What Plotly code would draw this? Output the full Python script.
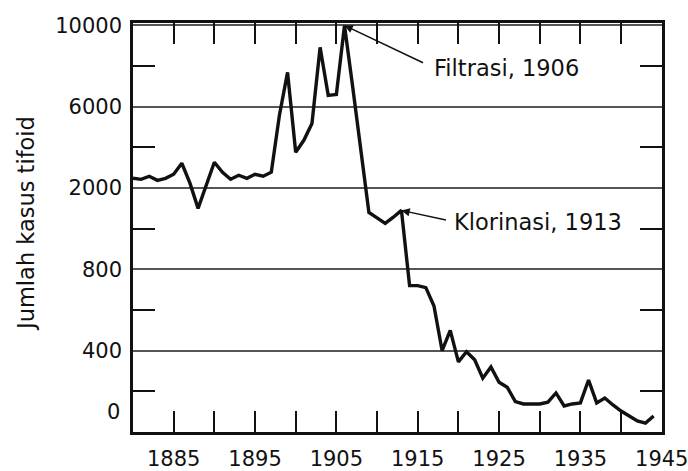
import numpy as np
import plotly.graph_objects as go

# ---- data ----
years = list(range(1880, 1945))
cases = [2480, 2430, 2580, 2380, 2480, 2680, 3220, 2240, 1700, 2140,
         3270, 2780, 2430, 2630, 2480, 2680, 2580, 2780, 5580, 7690,
         3760, 4350, 5180, 8920, 6560, 6600, 10000, 7000, 3910, 1640,
         1560, 1480, 1570, 1670, 720, 720, 710, 620, 400, 500,
         345, 395, 355, 265, 320, 245, 220, 150, 138, 138,
         138, 147, 192, 128, 138, 143, 256, 143, 167, 133,
         103, 79, 54, 44, 79]

y_tick_values = [0, 400, 800, 2000, 6000, 10000]
y_tick_labels = ["0", "400", "800", "2000", "6000", "10000"]
x_label_years = [1885, 1895, 1905, 1915, 1925, 1935, 1945]
x_minor_years = [1890, 1900, 1910, 1920, 1930, 1940]

y_title = "Jumlah kasus tifoid"
note_filter = ("Filtrasi, 1906", 1906)
note_chlor = ("Klorinasi, 1913", 1913)

# the printed axis spaces its labels evenly; map counts onto that scale
idx = list(range(len(y_tick_values)))
def to_pos(v):
    return np.interp(v, y_tick_values, idx)

ypos = to_pos(cases)

FONT = "DejaVu Sans"
TXT = "#111111"

fig = go.Figure()
fig.add_trace(go.Scatter(x=years, y=ypos, mode="lines",
                         line=dict(color="#111111", width=3.4),
                         hoverinfo="skip", showlegend=False))

fig.update_layout(
    template="none",
    width=688, height=471,
    margin=dict(l=133, r=26, t=23, b=39),
    paper_bgcolor="white", plot_bgcolor="white",
    font=dict(family=FONT, size=21, color=TXT),
    showlegend=False,
)

fig.update_xaxes(
    automargin=False,
    range=[1880, 1945.03],
    tickmode="array", tickvals=x_label_years,
    ticktext=[str(y) for y in x_label_years],
    ticks="inside", ticklen=21, tickwidth=1.6, tickcolor="#111",
    minor=dict(tickmode="array", tickvals=x_minor_years, ticks="inside",
               ticklen=21, tickwidth=1.6, tickcolor="#111", showgrid=False),
    showgrid=False, zeroline=False,
    showline=True, linecolor="#111", linewidth=2.6, mirror="ticks",
    tickfont=dict(family=FONT, size=21, color=TXT),
    ticklabeloverflow="allow",
    ticklabelstandoff=6,
)

fig.update_yaxes(
    automargin=False,
    range=[0, 5.03],
    tickmode="array", tickvals=idx[1:], ticktext=y_tick_labels[1:],
    ticks="", showgrid=True, gridcolor="#555555", gridwidth=1.5,
    minor=dict(tickmode="array", tickvals=[i + 0.5 for i in idx[:-1]],
               ticks="inside", ticklen=22, tickwidth=1.6, tickcolor="#111",
               showgrid=False),
    zeroline=False,
    showline=True, linecolor="#111", linewidth=2.6, mirror="ticks",
    tickfont=dict(family=FONT, size=21, color=TXT),
    ticklabeloverflow="allow",
    ticklabelstandoff=4,
)

# "0" label sits a little above the bottom edge in the original
fig.add_annotation(xref="paper", yref="y", x=0, y=0.25, xshift=-11,
                   xanchor="right", yanchor="middle", text=y_tick_labels[0],
                   showarrow=False, font=dict(family=FONT, size=21, color=TXT))

# y title
fig.add_annotation(xref="paper", yref="paper", x=-0.202, y=0.509,
                   text=y_title, textangle=-90, showarrow=False,
                   xanchor="center", yanchor="middle",
                   font=dict(family=FONT, size=22.5, color=TXT))

# callouts
def callout(label, year, ax, ay, tx, ty):
    yv = ypos[years.index(year)]
    fig.add_annotation(x=year, y=yv, xref="x", yref="y", text="",
                       showarrow=True, ax=ax, ay=ay, axref="pixel", ayref="pixel",
                       arrowhead=2, arrowsize=1.1, arrowwidth=1.5,
                       arrowcolor="#111", standoff=0)
    fig.add_annotation(x=year, y=yv, xref="x", yref="y", text=label,
                       showarrow=False, xanchor="left", yanchor="middle",
                       xshift=tx, yshift=ty,
                       font=dict(family=FONT, size=22.5, color=TXT))

callout(note_filter[0], note_filter[1], 80, 38, 87, -43)
callout(note_chlor[0], note_chlor[1], 46, 10, 51, -12)

# remove the browser's default 8px page margin so the figure fills the window
fig.write_html("out.html",
               config={"displayModeBar": False},
               post_script="document.body.style.margin='0';document.body.style.overflow='hidden';")
